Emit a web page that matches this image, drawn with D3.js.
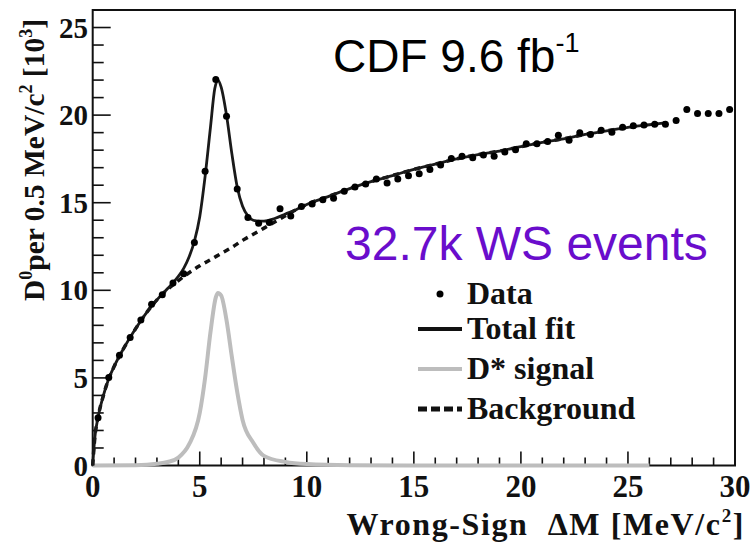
<!DOCTYPE html>
<html><head><meta charset="utf-8">
<script src="https://cdn.jsdelivr.net/npm/d3@7"></script>
<style>body{margin:0;background:#fff}svg{display:block}</style>
</head><body>
<svg id="c" width="750" height="543"></svg>
<script>
// Data points: bin centres (MeV/c^2) and counts [10^3]
const dataX = [0.25,0.75,1.25,1.75,2.25,2.75,3.25,3.75,4.25,4.75,5.25,5.75,6.25,6.75,7.25,7.75,8.25,8.75,9.25,9.75,
 10.25,10.75,11.25,11.75,12.25,12.75,13.25,13.75,14.25,14.75,15.25,15.75,16.25,16.75,17.25,17.75,18.25,18.75,19.25,19.75,
 20.25,20.75,21.25,21.75,22.25,22.75,23.25,23.75,24.25,24.75,25.25,25.75,26.25,26.75,27.25,27.75,28.25,28.75,29.25,29.75];
const dataY = [2.73,5.02,6.30,7.31,8.30,9.20,9.75,10.42,10.95,12.73,16.79,22.04,19.94,15.78,14.16,13.83,13.87,14.65,14.24,14.79,
 14.92,15.17,15.26,15.65,15.90,16.07,16.35,16.12,16.35,16.54,16.66,16.89,17.15,17.52,17.65,17.56,17.73,17.65,17.90,18.03,
 18.36,18.36,18.50,18.85,18.56,18.99,18.89,19.14,19.02,19.31,19.40,19.44,19.48,19.48,19.69,20.32,20.09,20.09,20.09,20.32];

// Total fit curve
const fitX = [0,0.1,0.25,0.5,0.75,1,1.5,2,2.5,3,3.5,4,4.25,4.5,4.75,5,5.25,5.5,5.7,5.85,6,6.25,6.5,6.75,7,7.25,7.5,7.75,8,8.5,9,9.5,10,
 11,12,13,14,15,16,17,18,19,20,21,22,23,24,25,26,26.7];
const fitY = [0,1.6,2.75,4.0,4.95,5.65,6.8,7.8,8.7,9.45,10.1,10.8,11.25,11.9,12.8,14.2,16.5,19.3,21.5,22.0,21.6,20.0,17.8,15.9,14.8,14.25,14.0,13.95,13.95,14.1,14.35,14.6,14.9,
 15.35,15.8,16.2,16.55,16.9,17.2,17.5,17.75,17.95,18.2,18.45,18.65,18.9,19.1,19.3,19.45,19.55];

// Background component
const bkgX = [0,0.1,0.25,0.5,0.75,1,1.5,2,2.5,3,3.5,4,4.5,5,5.5,6,6.5,7,7.5,8,8.5,9,9.5,10,
 11,12,13,14,15,16,17,18,19,20,21,22,23,24,25,26,26.7];
const bkgY = [0,1.6,2.75,4.0,4.95,5.65,6.8,7.8,8.7,9.45,10.05,10.55,11.0,11.4,11.75,12.1,12.45,12.85,13.2,13.55,13.9,14.25,14.6,14.9,
 15.35,15.8,16.2,16.55,16.9,17.2,17.5,17.75,17.95,18.2,18.45,18.65,18.9,19.1,19.3,19.45,19.55];

// D* signal component
const sigX = [0,2,3,3.5,4,4.5,5,5.25,5.5,5.75,5.85,6,6.25,6.5,6.75,7,7.5,8,9,10,12,16,20,26];
const sigY = [0,0.02,0.1,0.2,0.45,1.2,3.0,5.0,7.6,9.6,9.85,9.7,8.3,6.2,4.2,2.6,1.3,0.55,0.2,0.08,0.02,0,0,0];

const xTicks = [0,5,10,15,20,25,30];
const yTicks = [0,5,10,15,20,25];
const legendItems = ["Data","Total fit","D* signal","Background"];

const svg = d3.select("#c");
const x = d3.scaleLinear().domain([0,30]).range([92.7,735]);
const y = d3.scaleLinear().domain([0,26]).range([465.5,10]);
const serif = "'Liberation Serif','Times New Roman',serif";
const sans = "'Liberation Sans',Arial,sans-serif";

// frame
svg.append("rect").attr("x",x(0)).attr("y",y(26)).attr("width",x(30)-x(0)).attr("height",y(0)-y(26))
  .attr("fill","none").attr("stroke","#111").attr("stroke-width",2);

// minor/major ticks (inward)
const g = svg.append("g");
d3.range(1,30).forEach(v=>{
  const major = v%5===0;
  g.append("line").attr("x1",x(v)).attr("x2",x(v)).attr("y1",y(0)).attr("y2",y(0)-(major?14:8))
   .attr("stroke","#111").attr("stroke-width",1.6);
});
d3.range(1,26).forEach(v=>{
  const major = v%5===0;
  g.append("line").attr("y1",y(v)).attr("y2",y(v)).attr("x1",x(0)).attr("x2",x(0)+(major?18:11))
   .attr("stroke","#111").attr("stroke-width",1.6);
});

// tick labels
svg.append("g").selectAll("text").data(xTicks).join("text")
  .attr("x",d=>x(d)).attr("y",497).attr("text-anchor","middle")
  .attr("font-family",serif).attr("font-weight","bold").attr("font-size",31).attr("fill","#111")
  .text(d=>d);
svg.append("g").selectAll("text").data(yTicks).join("text")
  .attr("x",88).attr("y",d=>y(d)+10).attr("text-anchor","end")
  .attr("font-family",serif).attr("font-weight","bold").attr("font-size",29).attr("fill","#111")
  .text(d=>d);

// axis titles
const xl = svg.append("text").attr("x",745).attr("y",535).attr("text-anchor","end")
  .attr("font-family",serif).attr("font-weight","bold").attr("font-size",32).attr("letter-spacing",1.6).attr("fill","#111");
xl.append("tspan").text("Wrong-Sign\u00a0\u00a0ΔM [MeV/c");
xl.append("tspan").attr("font-size",19).attr("dy",-13).text("2");
xl.append("tspan").attr("dy",13).text("]");

const yl = svg.append("text").attr("transform","translate(44,160) rotate(-90)").attr("text-anchor","middle")
  .attr("font-family",serif).attr("font-weight","bold").attr("font-size",29.5).attr("fill","#111");
yl.append("tspan").text("D");
yl.append("tspan").attr("font-size",18).attr("dy",-12).text("0");
yl.append("tspan").attr("dy",12).text("per 0.5 MeV/c");
yl.append("tspan").attr("font-size",18).attr("dy",-12).text("2");
yl.append("tspan").attr("dy",12).text(" [10");
yl.append("tspan").attr("font-size",18).attr("dy",-12).text("3");
yl.append("tspan").attr("dy",12).text("]");

// curves
const line = d3.line().x(d=>x(d[0])).y(d=>y(d[1])).curve(d3.curveMonotoneX);
const plot = svg.append("g");
plot.append("path").datum(d3.zip(sigX,sigY)).attr("d",line).attr("fill","none")
  .attr("stroke","#bdbdbd").attr("stroke-width",4);
plot.append("path").datum(d3.zip(bkgX,bkgY)).attr("d",line).attr("fill","none")
  .attr("stroke","#111").attr("stroke-width",3.5).attr("stroke-dasharray","6,5");
plot.append("path").datum(d3.zip(fitX,fitY)).attr("d",line).attr("fill","none")
  .attr("stroke","#1a1a1a").attr("stroke-width",2.8);
plot.selectAll("circle").data(d3.zip(dataX,dataY)).join("circle")
  .attr("cx",d=>x(d[0])).attr("cy",d=>y(d[1])).attr("r",3.5).attr("fill","#000");

// legend
const lx0 = 418, lx1 = 462, tx = 467;
const rows = [294, 329, 369, 409];
svg.append("circle").attr("cx",440).attr("cy",rows[0]).attr("r",3.5).attr("fill","#000");
svg.append("line").attr("x1",lx0).attr("x2",lx1).attr("y1",rows[1]).attr("y2",rows[1]).attr("stroke","#111").attr("stroke-width",4);
svg.append("line").attr("x1",lx0).attr("x2",lx1).attr("y1",rows[2]).attr("y2",rows[2]).attr("stroke","#bdbdbd").attr("stroke-width",4);
svg.append("line").attr("x1",lx0).attr("x2",lx1).attr("y1",rows[3]).attr("y2",rows[3]).attr("stroke","#111").attr("stroke-width",5).attr("stroke-dasharray","9,4");
svg.append("g").selectAll("text").data(legendItems).join("text")
  .attr("x",tx).attr("y",(d,i)=>rows[i]+10).attr("font-family",serif).attr("font-weight","bold")
  .attr("font-size",32).attr("fill","#111").text(d=>d);

// annotations
const t1 = svg.append("text").attr("x",333).attr("y",72).attr("font-family",sans).attr("font-size",46).attr("fill","#000");
t1.append("tspan").text("CDF 9.6 fb");
t1.append("tspan").attr("font-size",27).attr("dy",-20).text("-1");
svg.append("text").attr("x",345).attr("y",260).attr("font-family",sans).attr("font-size",48)
  .attr("fill","#6a0dcc").text("32.7k WS events");
</script>
</body></html>
